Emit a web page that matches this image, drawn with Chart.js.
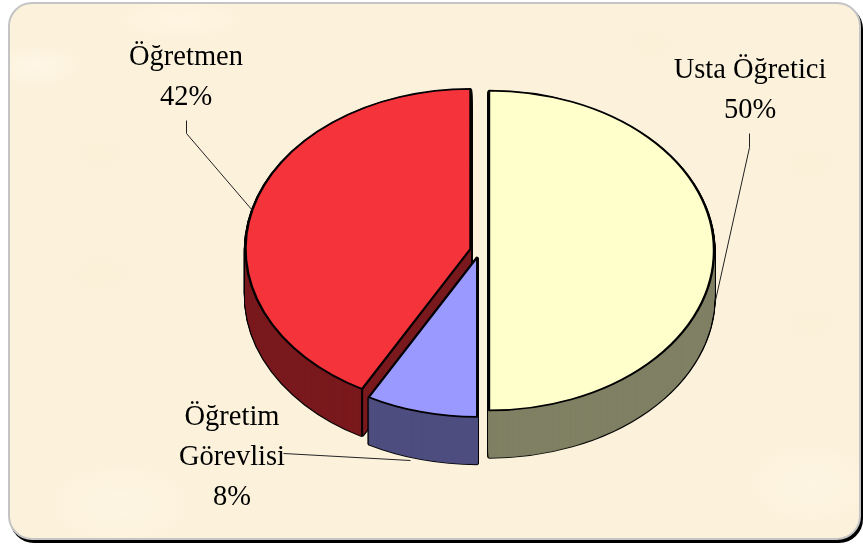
<!DOCTYPE html>
<html><head><meta charset="utf-8">
<script src="https://cdn.jsdelivr.net/npm/chart.js@4"></script>
<style>
html,body{margin:0;padding:0;width:863px;height:544px;background:#fff;overflow:hidden}
#panel{position:absolute;left:8px;top:2px;width:853px;height:538px;box-sizing:border-box;border-radius:24px;border:2px solid #c4c4c4;box-shadow:2px 3px 0 #000;
background:
radial-gradient(ellipse 45px 20px at 25px 62px,#fff6e6 0,#fff6e600 100%),
radial-gradient(ellipse 60px 20px at 170px 15px,#fff5e2 0,#fff5e200 100%),
radial-gradient(ellipse 60px 40px at 90px 150px,#fbf0d8 0,#fbf0d800 100%),
radial-gradient(ellipse 80px 50px at 90px 270px,#fbf0d8 0,#fbf0d800 100%),
radial-gradient(ellipse 70px 40px at 800px 160px,#fbf0d8 0,#fbf0d800 100%),
radial-gradient(ellipse 60px 40px at 640px 40px,#fbf0d8 0,#fbf0d800 100%),
radial-gradient(ellipse 70px 40px at 800px 320px,#fbf0d8 0,#fbf0d800 100%),
radial-gradient(ellipse 70px 40px at 110px 500px,#fdf4e2 0,#fdf4e200 100%),
radial-gradient(ellipse 60px 40px at 800px 480px,#fdf4e2 0,#fdf4e200 100%),
#fcf2dc}
#wrap{position:absolute;left:0;top:0;width:863px;height:544px}
</style></head><body>
<div id="panel"></div>
<div id="wrap"><canvas id="c" width="863" height="544"></canvas></div>
<script>
const categories=['Usta Öğretici','Öğretim Görevlisi','Öğretmen'];
const values=[50,8,42];
const topColors=['#ffffcc','#9999ff','#f4333b'];
const sideColors=['#808064','#4d4d80','#7a191d'];
const labelLines=[['Usta Öğretici','50%'],['Öğretim','Görevlisi','8%'],['Öğretmen','42%']];
const labelPos=[[750,78],[232,425],[186,65]];
const leaders=[[[749,133],[749,147],[715,300]],[[283,453],[410,460]],[[186,120],[186,133],[252,210]]];
const centre=[479.6,250.5], squash=0.711, depth=47, explode=9.4, drawOrder=[2,0,1], outline=2.4;

function place(ctx,chart,arc,dy){
  const mid=(arc.startAngle+arc.endAngle)/2;
  ctx.translate(centre[0],centre[1]+dy);
  ctx.scale(1,squash);
  ctx.translate(Math.cos(mid)*explode-arc.x,Math.sin(mid)*explode-arc.y);
}
function drawWith(arc,ctx,bg,bc,bw){
  const o=arc.options;
  arc.options=Object.create(o,{backgroundColor:{value:bg},borderColor:{value:bc},borderWidth:{value:bw}});
  arc.draw(ctx);
  arc.options=o;
}
const pie3d={id:'pie3d',
  beforeDatasetsDraw(chart){
    const ctx=chart.ctx, arcs=chart.getDatasetMeta(0).data;
    for(const i of drawOrder){
      const a=arcs[i];
      for(let d=depth;d>=1;d--){ctx.save();place(ctx,chart,a,d);drawWith(a,ctx,'#000','#000',3.4);ctx.restore();}
      for(let d=depth;d>=1;d--){ctx.save();place(ctx,chart,a,d);drawWith(a,ctx,sideColors[i],sideColors[i],0.8);ctx.restore();}
      if(i===2){
        const mid=(a.startAngle+a.endAngle)/2;
        const sx=centre[0]+Math.cos(mid)*explode+Math.cos(a.startAngle)*a.outerRadius;
        const sy=centre[1]+(Math.sin(mid)*explode+Math.sin(a.startAngle)*a.outerRadius)*squash;
        ctx.save();ctx.strokeStyle='#000';ctx.lineWidth=2;ctx.beginPath();ctx.moveTo(sx,sy);ctx.lineTo(sx,sy+depth);ctx.stroke();ctx.restore();
      }
      ctx.save();place(ctx,chart,a,0);a.draw(ctx);ctx.restore();
    }
    ctx.save();
    ctx.strokeStyle='#222';ctx.lineWidth=1;
    for(const l of leaders){ctx.beginPath();l.forEach((p,i)=>i?ctx.lineTo(p[0]+.5,p[1]+.5):ctx.moveTo(p[0]+.5,p[1]+.5));ctx.stroke();}
    ctx.fillStyle='#000';ctx.font='28.5px "Liberation Serif"';ctx.textAlign='center';ctx.textBaseline='alphabetic';
    labelLines.forEach((ls,i)=>ls.forEach((t,j)=>ctx.fillText(t,labelPos[i][0],labelPos[i][1]+j*40)));
    ctx.restore();
    return false;
  }
};
new Chart(document.getElementById('c'),{
  type:'pie',
  data:{labels:categories,datasets:[{data:values,backgroundColor:topColors,borderColor:'#000',borderWidth:outline}]},
  options:{responsive:false,animation:false,radius:225,
    layout:{padding:0},
    plugins:{legend:{display:false},tooltip:{enabled:false}},events:[]},
  plugins:[pie3d]
});
</script></body></html>
